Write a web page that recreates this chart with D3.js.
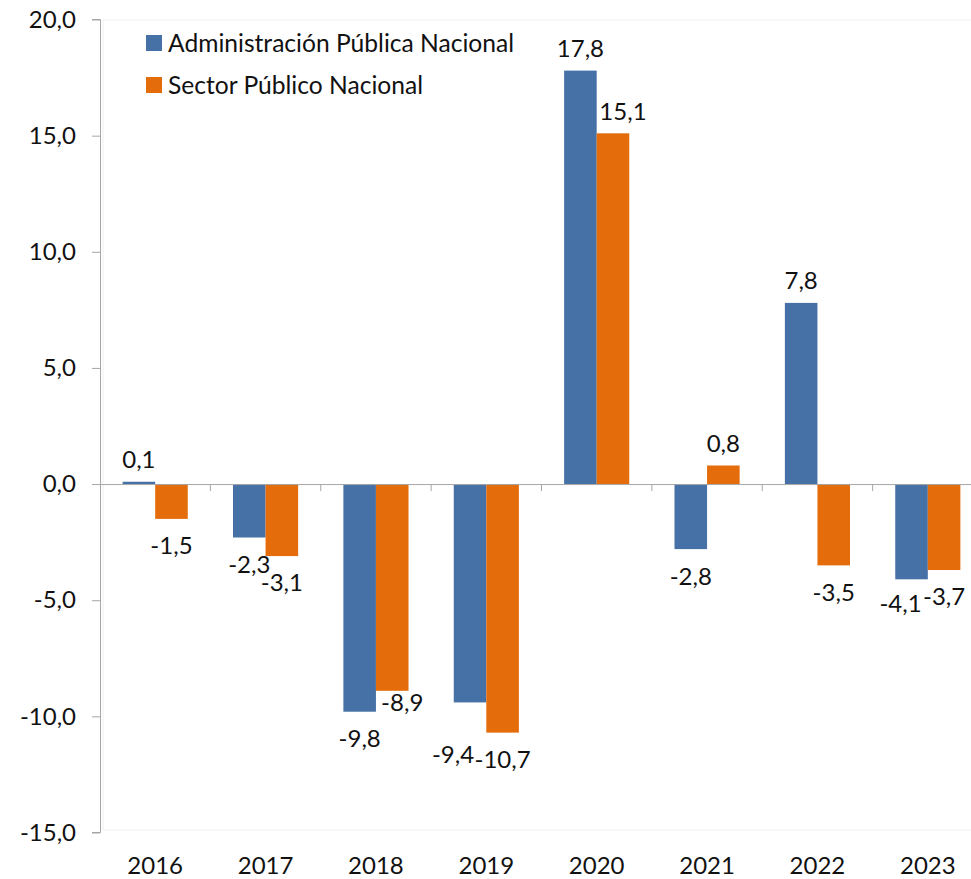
<!DOCTYPE html>
<html><head><meta charset="utf-8">
<script src="https://cdn.jsdelivr.net/npm/d3@7"></script>
<style>body{margin:0;background:#fff}svg{display:block;font-family:Lato,"Open Sans",sans-serif}</style>
</head><body>
<svg id="chart" width="971" height="879"></svg>
<script>
const years = ["2016","2017","2018","2019","2020","2021","2022","2023"];
const seriesNames = ["Administración Pública Nacional","Sector Público Nacional"];
const apn = [0.1,-2.3,-9.8,-9.4,17.8,-2.8,7.8,-4.1];
const spn = [-1.5,-3.1,-8.9,-10.7,15.1,0.8,-3.5,-3.7];
const yTicks = [-15,-10,-5,0,5,10,15,20];
const colors = ["#4671A6","#E46C0A"];

// label nudges (as placed in the original chart), keyed "year|seriesIndex"
const labelNudge = {"2018|1":[10,-15],"2019|0":[-17,25],"2020|1":[10,0],"2023|0":[-11,-3]};

const svg = d3.select("#chart");
const fmt = v => d3.format(".1f")(v).replace(".", ",").replace("\u2212","-");

const x = d3.scaleBand().domain(years).range([100, 983]).padding(0);
const xs = d3.scaleBand().domain([0,1]).range([x.bandwidth()*0.205, x.bandwidth()*0.795]).padding(0);
const y = d3.scaleLinear().domain([-15,20]).range([832.5,19.5]);

// plot border (faint)
svg.append("rect").attr("x",103).attr("y",20).attr("width",900).attr("height",810)
  .attr("fill","none").attr("stroke","#f0f0f0").attr("stroke-width",1);

// y axis
const yAxis = d3.axisLeft(y).tickValues(yTicks).tickFormat(fmt).tickSize(8).tickPadding(16);
const gy = svg.append("g").attr("transform","translate(100,0)").call(yAxis);
gy.select(".domain").attr("stroke","#a6a6a6").attr("d","M-8,19.5H0.5V832.5H-8");
gy.selectAll(".tick line").attr("stroke","#a6a6a6");
gy.selectAll(".tick text").attr("font-size",24).attr("fill","#111").attr("font-family","Lato");

// bars
const data = years.map((yr,i)=>({yr, vals:[apn[i], spn[i]]}));
const groups = svg.append("g").selectAll("g").data(data).join("g")
  .attr("transform", d=>`translate(${x(d.yr)},0)`);
groups.selectAll("rect").data(d=>d.vals.map((v,k)=>({v,k,yr:d.yr}))).join("rect")
  .attr("x", d=>xs(d.k)).attr("width", xs.bandwidth())
  .attr("y", d=>y(Math.max(0,d.v))).attr("height", d=>Math.abs(y(d.v)-y(0)))
  .attr("fill", d=>colors[d.k]);

// zero axis with category ticks
const xAxis = d3.axisBottom(x).tickSize(0).tickFormat("");
const gx = svg.append("g").attr("transform",`translate(0,${y(0)})`).call(xAxis);
gx.select(".domain").attr("stroke","#a6a6a6").attr("d","M100,0.5H983");
gx.selectAll(".tick").remove();
svg.append("g").selectAll("line").data(years.slice(1)).join("line")
  .attr("x1", d=>x(d)).attr("x2", d=>x(d)).attr("y1", y(0)).attr("y2", y(0)+7)
  .attr("stroke","#a6a6a6");

// bottom year labels
svg.append("g").selectAll("text").data(years).join("text")
  .attr("x", d=>x(d)+x.bandwidth()/2).attr("y", 866).attr("dy","0.35em")
  .attr("text-anchor","middle").attr("font-size",24).attr("fill","#111").text(d=>d);

// value labels
groups.selectAll("text.val").data(d=>d.vals.map((v,k)=>({v,k,yr:d.yr}))).join("text")
  .attr("class","val")
  .attr("x", d=>xs(d.k)+xs.bandwidth()/2 + (labelNudge[d.yr+"|"+d.k]||[0,0])[0])
  .attr("y", d=> (d.v>=0 ? y(d.v)-22 : y(d.v)+27) + (labelNudge[d.yr+"|"+d.k]||[0,0])[1])
  .attr("dy","0.35em").attr("text-anchor","middle")
  .attr("font-size",24).attr("fill","#111").text(d=>fmt(d.v));

// legend
const leg = svg.append("g").selectAll("g").data(seriesNames).join("g")
  .attr("transform",(d,i)=>`translate(146,${43+i*42})`);
leg.append("rect").attr("x",0).attr("y",-8).attr("width",16).attr("height",16).attr("fill",(d,i)=>colors[i]);
leg.append("text").attr("x",22).attr("y",0).attr("dy","0.35em").attr("font-size",24.6).attr("fill","#111").text(d=>d);
</script>
</body></html>
